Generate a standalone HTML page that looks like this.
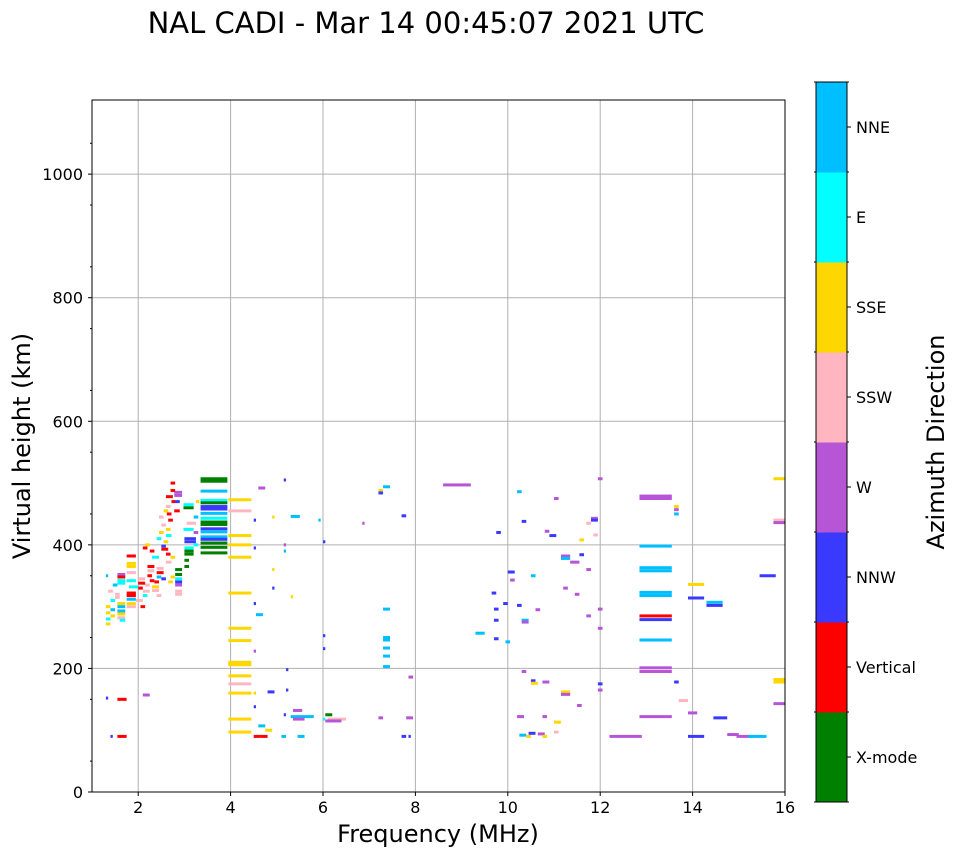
<!DOCTYPE html>
<html><head><meta charset="utf-8">
<style>
html,body{margin:0;padding:0;background:#fff;}
svg text{font-family:"DejaVu Sans","Liberation Sans",sans-serif;}
</style></head>
<body>
<svg id="chart" width="958" height="857" viewBox="0 0 958 857" xmlns="http://www.w3.org/2000/svg">
<text x="426" y="33" font-size="29" text-anchor="middle">NAL CADI - Mar 14 00:45:07 2021 UTC</text>
<g id="grid"></g>
<g id="marks"></g>
<rect x="92" y="100" width="693" height="692" fill="none" stroke="#000" stroke-width="1"/>
<g id="axes"></g>
<text x="438" y="842" font-size="24" text-anchor="middle">Frequency (MHz)</text>
<text transform="translate(30,446) rotate(-90)" font-size="24" text-anchor="middle">Virtual height (km)</text>
<g id="colorbar"></g>
<text transform="translate(944,442) rotate(-90)" font-size="24" text-anchor="middle">Azimuth Direction</text>
</svg>
<script>
const directions = ["X-mode","Vertical","NNW","W","SSW","SSE","E","NNE"];
const dirColors = ["#008000","#ff0000","#3a3aff","#b655d6","#ffb6c1","#ffd700","#00ffff","#00bfff"];
const xTicks = [2,4,6,8,10,12,14,16];
const yTicks = [0,200,400,600,800,1000];
// echo segments: [freqStart, freqEnd, heightKm, directionIndex]
const echoes = [
[3.35,3.93,507,0],[3.35,3.93,503,0],[3.35,3.93,487,7],[3.35,3.93,472,6],[3.35,3.93,468,0],[3.35,3.93,462,2],[3.35,3.93,458,2],
[3.35,3.93,451,7],[3.35,3.93,443,6],[3.35,3.93,437,0],[3.35,3.93,433,0],[3.35,3.93,426,2],[3.35,3.93,421,7],[3.35,3.93,413,7],
[3.35,3.93,409,2],[3.35,3.93,403,0],[3.35,3.93,396,0],[3.35,3.93,387,0],
[2.98,3.2,465,6],[2.98,3.2,460,0],[3.05,3.25,435,4],[2.98,3.2,425,6],[3.0,3.25,410,2],[3.0,3.25,405,2],[3.0,3.2,395,6],
[3.0,3.2,390,0],[3.0,3.2,385,0],[3.0,3.1,375,0],[3.0,3.1,365,0],[3.2,3.3,445,7],[3.2,3.3,420,3],[3.2,3.3,400,6],[3.25,3.32,470,5],
[2.78,2.95,485,3],[2.78,2.95,480,3],[2.78,2.9,470,2],[2.78,2.9,455,1],[2.7,2.8,500,1],[2.7,2.8,488,1],[2.72,2.8,470,1],
[2.6,2.75,478,1],[2.6,2.7,462,4],[2.62,2.72,450,1],[2.65,2.75,440,1],[2.6,2.7,425,5],[2.6,2.72,415,6],[2.55,2.65,405,5],
[2.5,2.6,398,2],[2.5,2.65,393,1],[2.6,2.7,385,1],[2.7,2.8,380,5],[2.6,2.72,372,4],[2.8,2.95,360,0],[2.8,2.95,352,0],[2.8,2.95,345,6],
[2.8,2.95,340,2],[2.8,2.95,335,3],[2.8,2.95,325,4],[2.8,2.95,320,4],[2.7,2.8,348,5],[2.65,2.75,340,5],[2.5,2.6,345,2],
[2.4,2.55,362,4],[2.4,2.55,355,1],[2.4,2.5,348,7],[2.35,2.45,340,1],[2.3,2.45,332,5],[2.3,2.45,326,4],[2.4,2.5,318,4],
[2.2,2.35,365,1],[2.2,2.35,358,4],[2.2,2.3,350,1],[2.25,2.35,342,1],[2.15,2.25,335,4],[2.1,2.25,325,4],[2.1,2.2,318,6],
[2.0,2.15,345,4],[2.0,2.15,338,1],[2.0,2.1,330,1],[1.95,2.1,310,4],[2.05,2.15,300,1],[2.3,2.45,380,6],[2.25,2.35,390,1],
[2.1,2.2,395,1],[2.15,2.25,400,5],[2.4,2.5,410,6],[2.45,2.55,420,5],[2.5,2.6,432,4],[2.45,2.55,445,4],[2.55,2.65,455,5],
[1.75,1.95,382,1],[1.75,1.95,370,5],[1.75,1.95,365,5],[1.75,1.95,355,4],[1.75,1.95,342,6],[1.8,2.0,332,6],[1.75,1.95,322,1],
[1.75,1.95,318,1],[1.75,1.95,312,7],[1.75,1.95,305,5],[1.75,1.95,300,4],[1.55,1.72,352,3],[1.55,1.72,348,1],[1.55,1.72,342,6],
[1.55,1.72,338,6],[1.5,1.6,320,4],[1.55,1.72,305,5],[1.55,1.72,300,7],[1.55,1.72,293,7],[1.55,1.72,288,5],[1.55,1.72,282,4],
[1.5,1.6,315,4],[1.6,1.72,278,6],[1.3,1.4,300,5],[1.3,1.4,290,5],[1.3,1.4,280,6],[1.3,1.4,272,5],[1.4,1.5,310,6],[1.4,1.5,295,7],
[1.4,1.5,285,5],[1.35,1.45,325,4],[1.45,1.55,335,7],[1.3,1.35,350,7],
[3.95,4.45,473,5],[3.95,4.45,455,4],[3.95,4.45,415,5],[3.95,4.45,400,5],[3.95,4.45,380,5],[3.95,4.45,322,5],[3.95,4.45,265,5],
[3.95,4.45,245,5],[3.95,4.45,210,5],[3.95,4.45,206,5],[3.95,4.45,188,5],[3.95,4.45,175,4],[3.95,4.45,160,5],[3.95,4.45,118,5],[3.95,4.45,97,5],
[1.3,1.35,152,2],[1.55,1.75,150,1],[1.4,1.45,90,2],[1.55,1.75,90,1],[2.1,2.25,157,3],
[4.5,4.55,440,2],[4.5,4.55,395,2],[4.5,4.55,305,2],[4.55,4.7,287,7],[4.6,4.75,492,3],[4.5,4.55,228,3],[4.5,4.55,160,5],[4.5,4.55,138,2],
[4.6,4.75,107,7],[4.5,4.65,90,1],[4.65,4.8,90,1],[4.75,4.9,100,5],[4.8,4.95,162,2],[4.9,4.95,360,5],[4.9,4.95,445,5],[4.9,4.95,330,2],
[5.15,5.2,505,2],[5.15,5.2,400,3],[5.15,5.2,390,7],[5.2,5.25,198,2],[5.2,5.25,165,2],[5.15,5.2,125,2],[5.3,5.5,446,7],[5.3,5.35,316,5],
[5.35,5.55,132,3],[5.3,5.8,122,7],[5.35,5.6,118,3],[5.45,5.6,90,7],[5.9,5.95,440,7],[6.0,6.05,405,2],[6.0,6.05,253,2],[6.0,6.05,232,2],
[6.1,6.5,118,4],[6.05,6.2,125,0],[6.05,6.4,115,3],[5.1,5.2,90,7],[6.0,6.05,118,6],
[7.2,7.3,488,5],[7.3,7.45,494,7],[7.2,7.3,484,2],[7.3,7.45,296,7],[7.3,7.45,250,7],[7.3,7.45,246,7],[7.3,7.45,233,7],[7.3,7.45,220,7],
[7.3,7.45,203,7],[7.2,7.3,120,3],[7.7,7.8,447,2],[7.85,7.95,186,3],[7.8,7.95,120,3],[7.85,7.9,90,2],[7.7,7.8,90,2],[6.85,6.9,435,3],
[8.6,9.2,497,3],[9.3,9.5,257,7],[9.75,9.85,420,2],[9.65,9.75,322,2],[9.7,9.8,296,2],[9.7,9.8,278,2],[9.7,9.8,248,2],[9.9,10.0,305,2],
[9.95,10.05,243,7],[10.0,10.15,356,2],[10.05,10.15,343,3],[10.2,10.3,486,7],[10.2,10.3,302,2],[10.3,10.4,438,2],[10.3,10.45,278,7],
[10.3,10.45,275,3],[10.3,10.4,195,3],[10.2,10.35,122,3],[10.25,10.4,92,7],[10.4,10.5,90,5],[10.45,10.6,95,2],[10.5,10.6,350,7],
[10.5,10.6,180,2],[10.5,10.65,176,5],[10.6,10.7,295,3],[10.65,10.8,94,3],[10.75,10.85,90,5],[10.8,10.9,422,3],[10.75,10.9,178,3],
[10.75,10.85,122,3],[10.9,11.05,415,2],[11.0,11.1,475,3],[11.0,11.15,113,5],[11.0,11.1,97,4],[11.15,11.35,382,3],[11.15,11.35,378,7],
[11.2,11.3,330,3],[11.15,11.35,162,5],[11.15,11.35,158,3],[11.35,11.55,372,3],[11.45,11.55,320,3],[11.5,11.6,140,3],[11.55,11.65,408,5],
[11.55,11.65,384,2],[11.7,11.8,435,4],[11.7,11.8,360,3],[11.7,11.8,285,3],[11.8,11.95,443,3],[11.8,11.95,440,2],[11.85,11.95,416,4],
[11.95,12.05,507,3],[11.95,12.05,296,3],[11.95,12.05,265,3],[11.95,12.05,175,2],[11.95,12.05,165,3],[12.2,12.9,90,3],
[12.85,13.55,479,3],[12.85,13.55,475,3],[12.85,13.55,398,7],[12.85,13.55,363,7],[12.85,13.55,358,7],[12.85,13.55,323,7],[12.85,13.55,318,7],
[12.85,13.55,285,1],[12.85,13.55,279,2],[12.85,13.55,246,7],[12.85,13.55,201,3],[12.85,13.55,195,3],[12.85,13.55,122,3],
[13.6,13.7,462,5],[13.6,13.7,457,3],[13.6,13.7,450,7],[13.6,13.7,178,2],[13.7,13.9,148,4],[13.9,14.25,336,5],[13.9,14.25,314,2],
[13.9,14.1,128,3],[13.9,14.25,90,2],[14.3,14.65,307,7],[14.3,14.65,302,2],[14.45,14.75,120,2],[14.75,15.0,93,3],[14.95,15.3,90,3],
[15.2,15.6,90,7],[15.45,15.8,350,2],[15.75,16,507,5],[15.75,16,440,4],[15.75,16,436,3],[15.75,16,182,5],[15.75,16,178,5],[15.75,16,143,3]
];
const NS="http://www.w3.org/2000/svg";
const L=92,R=785,T=100,B=792;
const xMin=1,xMax=16,yMin=0,yMax=1120;
function xs(f){return L+(f-xMin)/(xMax-xMin)*(R-L);}
function ys(h){return B-(h-yMin)/(yMax-yMin)*(B-T);}
function mk(tag,attrs,parent){const e=document.createElementNS(NS,tag);for(const k in attrs)e.setAttribute(k,attrs[k]);parent.appendChild(e);return e;}
const grid=document.getElementById('grid'),axes=document.getElementById('axes'),marks=document.getElementById('marks'),cb=document.getElementById('colorbar');
xTicks.forEach(t=>{
  const x=xs(t);
  if(t<xMax){const g=mk('line',{x1:x,x2:x,y1:T,y2:B,stroke:'#b0b0b0','stroke-width':1},grid);
  
  }
  const tk=mk('line',{x1:x,x2:x,y1:B,y2:B+4,stroke:'#000'},axes);
  
  
  const lb=mk('text',{x:x,y:B+21,'font-size':16,'text-anchor':'middle'},axes);lb.textContent=t;
  
  
});
yTicks.forEach(t=>{
  const y=ys(t);
  if(t>0){const g=mk('line',{x1:L,x2:R,y1:y,y2:y,stroke:'#b0b0b0','stroke-width':1},grid);
  
  }
  const tk=mk('line',{x1:L-4,x2:L,y1:y,y2:y,stroke:'#000'},axes);
  
  
  const lb=mk('text',{x:L-9,y:y+6,'font-size':16,'text-anchor':'end'},axes);lb.textContent=t;
  
  
});
for(let h=50;h<yMax;h+=100){const y=ys(h);const m=mk('line',{x1:L-2,x2:L,y1:y,y2:y,stroke:'#000'},axes);
  
  }
echoes.forEach(e=>{
  const x0=xs(e[0]),x1=xs(e[1]),y=ys(e[2]);
  const r=mk('rect',{x:x0,y:y-1.5,width:Math.max(2,x1-x0),height:3,fill:dirColors[e[3]]},marks);
  
  
});
const cT=82,cB=802,cL=816,cW=31,seg=(cB-cT)/directions.length;
directions.forEach((d,i)=>{
  const y0=cB-(i+1)*seg;
  const r=mk('rect',{x:cL,y:y0,width:cW,height:seg+0.5,fill:dirColors[i]},cb);
  
  
  const tk=mk('line',{x1:cL+cW,x2:cL+cW+4,y1:y0+seg/2,y2:y0+seg/2,stroke:'#000'},cb);
  
  
  const lb=mk('text',{x:cL+cW+9,y:y0+seg/2+6,'font-size':16},cb);lb.textContent=d;
  
  
});
for(let i=0;i<=directions.length;i++){const y=cT+i*seg;
  const a=mk('line',{x1:cL-2,x2:cL,y1:y,y2:y,stroke:'#000'},cb);
  const b=mk('line',{x1:cL+cW,x2:cL+cW+2,y1:y,y2:y,stroke:'#000'},cb);}
const fr=mk('rect',{x:cL,y:cT,width:cW,height:cB-cT,fill:'none',stroke:'#000'},cb);


</script>
</body></html>
